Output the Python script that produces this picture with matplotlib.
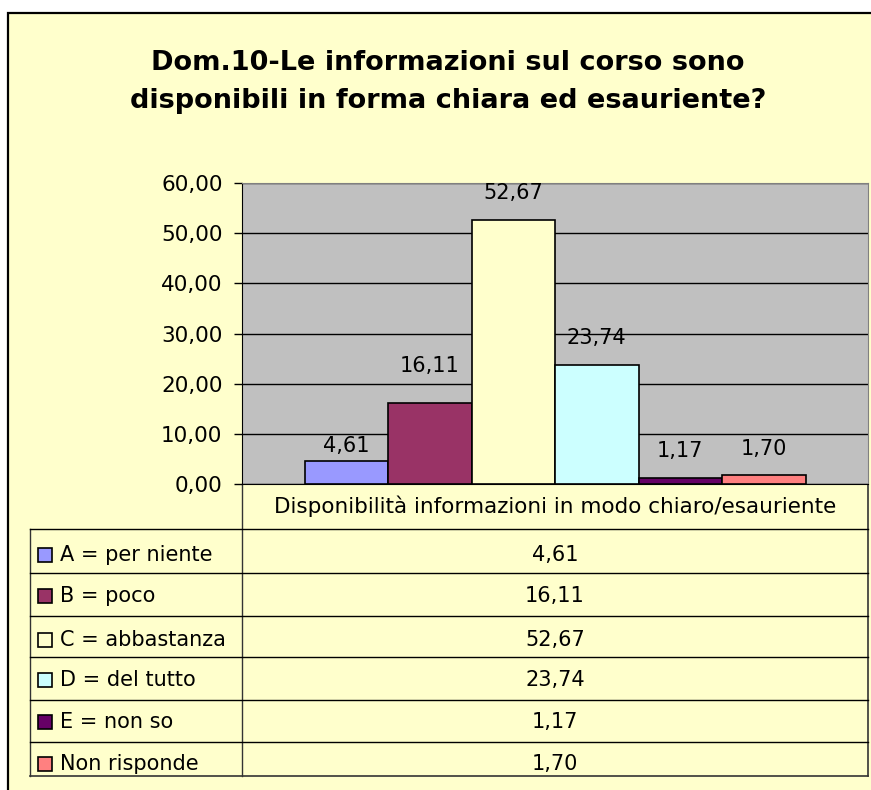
import matplotlib.pyplot as plt
from matplotlib.patches import Rectangle

plt.rcParams['font.family'] = ['DejaVu Sans']

# dati del grafico
title = 'Dom.10-Le informazioni sul corso sono\ndisponibili in forma chiara ed esauriente?'
category = 'Disponibilità informazioni in modo chiaro/esauriente'
labels = ['A = per niente', 'B = poco', 'C = abbastanza', 'D = del tutto', 'E = non so', 'Non risponde']
values = [4.61, 16.11, 52.67, 23.74, 1.17, 1.70]
colors = ['#9999FF', '#993366', '#FFFFCC', '#CCFFFF', '#660066', '#FF8080']
yticks = [0, 10, 20, 30, 40, 50, 60]

# distanza etichette dalle barre (px)
label_gap = [9, 31, 21, 21, 21, 20]

def fmt(v):
    return f'{v:.2f}'.replace('.', ',')

W, H = 871, 790
fig = plt.figure(figsize=(W / 100, H / 100), dpi=100)
fig.patch.set_facecolor('white')

# livello di sfondo in pixel
ov = fig.add_axes([0, 0, 1, 1], zorder=0)
ov.set_xlim(0, W)
ov.set_ylim(H, 0)
ov.axis('off')
ov.add_patch(Rectangle((8, 13), W, H, facecolor='#FFFFCC', edgecolor='black', lw=1.6))

ov.text(448, 82, title, ha='center', va='center', fontsize=19.5, fontweight='bold',
        linespacing=1.62)

# area del grafico
x0, x1, ytop, ybot = 242, 868, 183, 484
ax = fig.add_axes([x0 / W, (H - ybot) / H, (x1 - x0) / W, (ybot - ytop) / H], zorder=1)
ax.set_facecolor('#C0C0C0')
n = len(values)
bw = 83.5 / (x1 - x0)
xs = [(i - (n - 1) / 2) * bw for i in range(n)]
ax.bar(xs, values, width=bw, color=colors, edgecolor='black', linewidth=1.2, zorder=3)
for x, v, g in zip(xs, values, label_gap):
    ax.annotate(fmt(v), (x, v), xytext=(0, g * 0.72), textcoords='offset points',
                ha='center', va='baseline', fontsize=15, zorder=4)
ax.set_xlim(-0.5, 0.5)
ax.set_ylim(0, 60)
ax.set_yticks(yticks)
ax.set_yticklabels([fmt(t) for t in yticks], fontsize=15.5)
ax.yaxis.grid(True, color='black', linewidth=1)
ax.set_axisbelow(True)
ax.set_xticks([])
ax.tick_params(axis='y', length=6, width=1, pad=8)
ax.spines['top'].set_color('#808080')
ax.spines['right'].set_color('#808080')
ax.spines['left'].set_color('black')
ax.spines['bottom'].set_color('black')

# tabella dati
tl, tr, th, tb = 30, 868, 529, 776
row_lines = [529, 573, 616, 657, 700, 742]
row_text = [555, 596, 640, 680, 722, 764]
lc = 'black'
ov.plot([x0, x0], [ybot, tb], color='#333333', lw=1)
ov.plot([tr, tr], [ybot, tb], color='#333333', lw=1.2)
ov.plot([tl, tl], [th, tb], color='#333333', lw=1)
ov.plot([tl, tr], [tb, tb], color='#333333', lw=1.2)
for y in row_lines:
    ov.plot([tl, tr], [y, y], color=lc, lw=1)
ov.text((x0 + tr) / 2, 506, category, ha='center', va='center', fontsize=15.5)
for lab, v, c, y in zip(labels, values, colors, row_text):
    ov.add_patch(Rectangle((38, y - 7), 14, 14, facecolor=c, edgecolor='black', lw=1.2))
    ov.text(60, y, lab, ha='left', va='center', fontsize=15)
    ov.text((x0 + tr) / 2, y, fmt(v), ha='center', va='center', fontsize=15)

fig.savefig('out.png', dpi=100, facecolor=fig.get_facecolor())
